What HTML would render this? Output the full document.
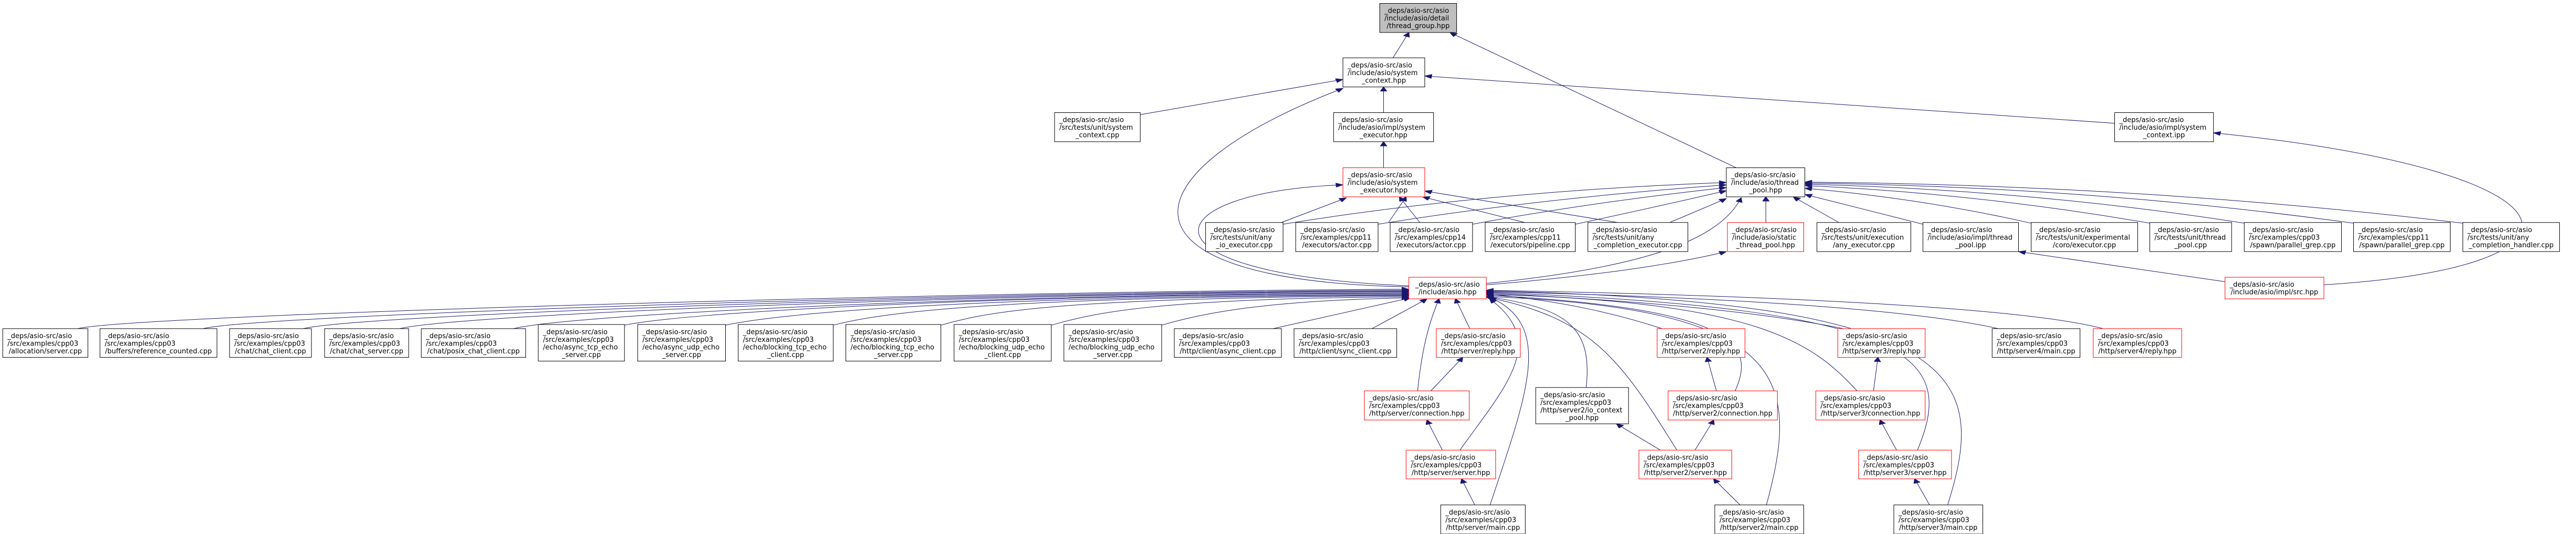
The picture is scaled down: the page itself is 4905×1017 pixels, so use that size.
<!DOCTYPE html>
<html><head><meta charset="utf-8">
<style>
html,body{margin:0;padding:0;background:#fff;width:4905px;height:1017px;overflow:hidden}
svg{display:block}
rect{fill:#fff;stroke:#000;stroke-width:1;vector-effect:non-scaling-stroke}
rect.r{stroke:#ff0000}
rect.g{fill:#bfbfbf}
path{fill:none;stroke:#191970;stroke-width:1;vector-effect:non-scaling-stroke}
text{font-family:"DejaVu Sans","Liberation Sans",sans-serif;font-size:13px;fill:#000}
text.m{text-anchor:middle}
</style></head><body>
<svg width="4905" height="1017" viewBox="0 0 4690 1560" preserveAspectRatio="none" xmlns="http://www.w3.org/2000/svg">
<defs><marker id="a" markerUnits="userSpaceOnUse" markerWidth="16" markerHeight="14" refX="13" refY="6" orient="auto"><path d="M0,0 L13,6 L0,12 z" style="fill:#191970;stroke:#191970"/></marker></defs>
<g marker-end="url(#a)">
<!-- to thread_group -->
<path d="M2536,169 L2565,95"/>
<path d="M3161,490 L2640,95"/>
<!-- to system_context.hpp -->
<path d="M2076,335 L2445,232"/>
<path d="M2519,329 L2519,254"/>
<path d="M2565,838 C2000,820 2050,500 2445,258"/>
<path d="M3850,360 L2594,222"/>
<!-- impl/system_executor -->
<path d="M2519,490 L2519,414"/>
<!-- system_executor.hpp -->
<path d="M2565,835 C2050,800 2100,560 2445,540"/>
<path d="M2333,650 L2451,578"/>
<path d="M2528,650 L2560,575"/>
<path d="M2585,650 L2548,575"/>
<path d="M2776,650 L2590,575"/>
<path d="M2945,650 L2594,558"/>
<!-- thread_pool.hpp -->
<path d="M2336,655 Q2700,560 3143,533"/>
<path d="M2509,655 Q2800,580 3143,540"/>
<path d="M2681,655 Q2900,590 3143,548"/>
<path d="M2868,655 Q3000,610 3143,557"/>
<path d="M3040,650 L3143,580"/>
<path d="M2706,828 C3000,780 3130,700 3170,578"/>
<path d="M2706,832 C2950,800 3080,760 3143,735"/>
<path d="M3215,650 L3215,575"/>
<path d="M3348,650 L3265,575"/>
<path d="M3501,655 L3286,568"/>
<path d="M3698,652 Q3500,580 3286,550"/>
<path d="M3914,652 Q3600,565 3286,542"/>
<path d="M4086,652 Q3700,555 3286,538"/>
<path d="M4285,652 Q3800,545 3286,535"/>
<path d="M4484,652 Q3900,540 3286,532"/>
<!-- src.hpp -->
<path d="M4051,823 L3675,735"/>
<path d="M4231,832 C4760,780 4720,500 4030,388"/>
<!-- left files to asio.hpp -->
<path d="M142,960 C242,920 1765,850 2565,845"/>
<path d="M370,960 C470,920 1765,852 2565,848"/>
<path d="M552,960 C652,920 1765,855 2565,850"/>
<path d="M728,960 C828,920 1765,857 2565,852"/>
<path d="M935,960 C1035,920 1765,860 2565,855"/>
<path d="M1137,950 C1237,915 1765,862 2565,857"/>
<path d="M1321,950 C1421,915 1765,865 2565,860"/>
<path d="M1517,950 C1600,915 1800,867 2565,862"/>
<path d="M1713,950 C1790,915 1900,870 2565,864"/>
<path d="M1914,950 C1990,915 2100,872 2565,867"/>
<path d="M2115,950 C2190,915 2300,878 2565,870"/>
<path d="M2318,960 L2568,870"/>
<path d="M2498,960 L2598,873"/>
<!-- http/server -->
<path d="M2581,1142 C2590,1000 2605,930 2620,873"/>
<path d="M2676,960 L2650,873"/>
<path d="M2605,1142 L2663,1044"/>
<path d="M2626,1315 L2598,1227"/>
<path d="M2685,1475 L2661,1399"/>
<path d="M2658,1315 C2740,1130 2820,1000 2712,873"/>
<path d="M2713,1475 C2780,1150 2830,950 2712,868"/>
<path d="M2888,1132 C2900,950 2850,900 2706,866"/>
<!-- server2 -->
<path d="M3023,1315 L2943,1238"/>
<path d="M3086,1315 L3120,1227"/>
<path d="M3125,1142 L3108,1044"/>
<path d="M3168,1475 L3120,1399"/>
<path d="M3026,960 C2950,920 2850,880 2706,858"/>
<path d="M3053,1315 C2950,1050 2900,930 2706,868"/>
<path d="M3159,1142 C3200,1000 3150,900 2706,862"/>
<path d="M3216,1475 C3280,1100 3250,900 2706,866"/>
<!-- server3 -->
<path d="M3411,1142 L3419,1044"/>
<path d="M3453,1315 L3423,1227"/>
<path d="M3513,1475 L3486,1399"/>
<path d="M3356,960 C3200,910 3000,880 2706,856"/>
<path d="M3381,1142 C3300,1000 3200,880 2706,860"/>
<path d="M3491,1315 C3560,1050 3500,900 2706,854"/>
<path d="M3546,1475 C3620,1100 3580,880 2706,850"/>
<!-- server4 -->
<path d="M3638,960 C3500,910 3200,870 2706,852"/>
<path d="M3829,960 C3700,905 3300,865 2706,848"/>
</g>

<!-- NODES -->
<rect x="5" y="960" width="155" height="84"/><g transform="translate(5,960) scale(.956,1.534)"><text x="9" y="18.2">_deps/asio-src/asio</text><text x="9" y="32.7">/src/examples/cpp03</text><text class="m" x="81.1" y="47.2">/allocation/server.cpp</text></g>
<rect x="182" y="960" width="213" height="84"/><g transform="translate(182,960) scale(.956,1.534)"><text x="9" y="18.2">_deps/asio-src/asio</text><text x="9" y="32.7">/src/examples/cpp03</text><text class="m" x="111.4" y="47.2">/buffers/reference_counted.cpp</text></g>
<rect x="418" y="960" width="149" height="84"/><g transform="translate(418,960) scale(.956,1.534)"><text x="9" y="18.2">_deps/asio-src/asio</text><text x="9" y="32.7">/src/examples/cpp03</text><text class="m" x="77.9" y="47.2">/chat/chat_client.cpp</text></g>
<rect x="591" y="960" width="153" height="84"/><g transform="translate(591,960) scale(.956,1.534)"><text x="9" y="18.2">_deps/asio-src/asio</text><text x="9" y="32.7">/src/examples/cpp03</text><text class="m" x="80" y="47.2">/chat/chat_server.cpp</text></g>
<rect x="767" y="960" width="190" height="84"/><g transform="translate(767,960) scale(.956,1.534)"><text x="9" y="18.2">_deps/asio-src/asio</text><text x="9" y="32.7">/src/examples/cpp03</text><text class="m" x="99.4" y="47.2">/chat/posix_chat_client.cpp</text></g>
<rect x="980" y="948" width="157" height="107"/><g transform="translate(980,948) scale(.956,1.534)"><text x="9" y="18.4">_deps/asio-src/asio</text><text x="9" y="32.9">/src/examples/cpp03</text><text x="9" y="47.4">/echo/async_tcp_echo</text><text class="m" x="82.1" y="61.9">_server.cpp</text></g>
<rect x="1161" y="948" width="160" height="107"/><g transform="translate(1161,948) scale(.956,1.534)"><text x="9" y="18.4">_deps/asio-src/asio</text><text x="9" y="32.9">/src/examples/cpp03</text><text x="9" y="47.4">/echo/async_udp_echo</text><text class="m" x="83.7" y="61.9">_server.cpp</text></g>
<rect x="1344" y="948" width="173" height="107"/><g transform="translate(1344,948) scale(.956,1.534)"><text x="9" y="18.4">_deps/asio-src/asio</text><text x="9" y="32.9">/src/examples/cpp03</text><text x="9" y="47.4">/echo/blocking_tcp_echo</text><text class="m" x="90.5" y="61.9">_client.cpp</text></g>
<rect x="1540" y="948" width="173" height="107"/><g transform="translate(1540,948) scale(.956,1.534)"><text x="9" y="18.4">_deps/asio-src/asio</text><text x="9" y="32.9">/src/examples/cpp03</text><text x="9" y="47.4">/echo/blocking_tcp_echo</text><text class="m" x="90.5" y="61.9">_server.cpp</text></g>
<rect x="1737" y="948" width="177" height="107"/><g transform="translate(1737,948) scale(.956,1.534)"><text x="9" y="18.4">_deps/asio-src/asio</text><text x="9" y="32.9">/src/examples/cpp03</text><text x="9" y="47.4">/echo/blocking_udp_echo</text><text class="m" x="92.6" y="61.9">_client.cpp</text></g>
<rect x="1937" y="948" width="178" height="107"/><g transform="translate(1937,948) scale(.956,1.534)"><text x="9" y="18.4">_deps/asio-src/asio</text><text x="9" y="32.9">/src/examples/cpp03</text><text x="9" y="47.4">/echo/blocking_udp_echo</text><text class="m" x="93.1" y="61.9">_server.cpp</text></g>
<rect x="2138" y="960" width="195" height="84"/><g transform="translate(2138,960) scale(.956,1.534)"><text x="9" y="18.2">_deps/asio-src/asio</text><text x="9" y="32.7">/src/examples/cpp03</text><text class="m" x="102" y="47.2">/http/client/async_client.cpp</text></g>
<rect x="2356" y="960" width="187" height="84"/><g transform="translate(2356,960) scale(.956,1.534)"><text x="9" y="18.2">_deps/asio-src/asio</text><text x="9" y="32.7">/src/examples/cpp03</text><text class="m" x="97.8" y="47.2">/http/client/sync_client.cpp</text></g>
<rect class="r" x="2615" y="960" width="153" height="84"/><g transform="translate(2615,960) scale(.956,1.534)"><text x="9" y="18.2">_deps/asio-src/asio</text><text x="9" y="32.7">/src/examples/cpp03</text><text class="m" x="80" y="47.2">/http/server/reply.hpp</text></g>
<rect class="r" x="2484" y="1142" width="191" height="85"/><g transform="translate(2484,1142) scale(.956,1.534)"><text x="9" y="18.2">_deps/asio-src/asio</text><text x="9" y="32.7">/src/examples/cpp03</text><text class="m" x="99.9" y="47.2">/http/server/connection.hpp</text></g>
<rect class="r" x="2560" y="1315" width="163" height="84"/><g transform="translate(2560,1315) scale(.956,1.534)"><text x="9" y="18.2">_deps/asio-src/asio</text><text x="9" y="32.7">/src/examples/cpp03</text><text class="m" x="85.2" y="47.2">/http/server/server.hpp</text></g>
<rect x="2623" y="1475" width="154" height="85"/><g transform="translate(2623,1475) scale(.956,1.534)"><text x="9" y="18.2">_deps/asio-src/asio</text><text x="9" y="32.7">/src/examples/cpp03</text><text class="m" x="80.5" y="47.2">/http/server/main.cpp</text></g>
<rect x="2796" y="1132" width="169" height="106"/><g transform="translate(2796,1132) scale(.956,1.534)"><text x="9" y="18.4">_deps/asio-src/asio</text><text x="9" y="32.9">/src/examples/cpp03</text><text x="9" y="47.4">/http/server2/io_context</text><text class="m" x="88.4" y="61.9">_pool.hpp</text></g>
<rect class="r" x="3017" y="960" width="160" height="84"/><g transform="translate(3017,960) scale(.956,1.534)"><text x="9" y="18.2">_deps/asio-src/asio</text><text x="9" y="32.7">/src/examples/cpp03</text><text class="m" x="83.7" y="47.2">/http/server2/reply.hpp</text></g>
<rect class="r" x="3037" y="1142" width="199" height="85"/><g transform="translate(3037,1142) scale(.956,1.534)"><text x="9" y="18.2">_deps/asio-src/asio</text><text x="9" y="32.7">/src/examples/cpp03</text><text class="m" x="104.1" y="47.2">/http/server2/connection.hpp</text></g>
<rect class="r" x="2984" y="1315" width="169" height="84"/><g transform="translate(2984,1315) scale(.956,1.534)"><text x="9" y="18.2">_deps/asio-src/asio</text><text x="9" y="32.7">/src/examples/cpp03</text><text class="m" x="88.4" y="47.2">/http/server2/server.hpp</text></g>
<rect x="3122" y="1475" width="162" height="85"/><g transform="translate(3122,1475) scale(.956,1.534)"><text x="9" y="18.2">_deps/asio-src/asio</text><text x="9" y="32.7">/src/examples/cpp03</text><text class="m" x="84.7" y="47.2">/http/server2/main.cpp</text></g>
<rect class="r" x="3346" y="960" width="159" height="84"/><g transform="translate(3346,960) scale(.956,1.534)"><text x="9" y="18.2">_deps/asio-src/asio</text><text x="9" y="32.7">/src/examples/cpp03</text><text class="m" x="83.2" y="47.2">/http/server3/reply.hpp</text></g>
<rect class="r" x="3306" y="1142" width="199" height="85"/><g transform="translate(3306,1142) scale(.956,1.534)"><text x="9" y="18.2">_deps/asio-src/asio</text><text x="9" y="32.7">/src/examples/cpp03</text><text class="m" x="104.1" y="47.2">/http/server3/connection.hpp</text></g>
<rect class="r" x="3384" y="1315" width="169" height="84"/><g transform="translate(3384,1315) scale(.956,1.534)"><text x="9" y="18.2">_deps/asio-src/asio</text><text x="9" y="32.7">/src/examples/cpp03</text><text class="m" x="88.4" y="47.2">/http/server3/server.hpp</text></g>
<rect x="3448" y="1475" width="162" height="85"/><g transform="translate(3448,1475) scale(.956,1.534)"><text x="9" y="18.2">_deps/asio-src/asio</text><text x="9" y="32.7">/src/examples/cpp03</text><text class="m" x="84.7" y="47.2">/http/server3/main.cpp</text></g>
<rect x="3627" y="960" width="160" height="84"/><g transform="translate(3627,960) scale(.956,1.534)"><text x="9" y="18.2">_deps/asio-src/asio</text><text x="9" y="32.7">/src/examples/cpp03</text><text class="m" x="83.7" y="47.2">/http/server4/main.cpp</text></g>
<rect class="r" x="3811" y="960" width="161" height="84"/><g transform="translate(3811,960) scale(.956,1.534)"><text x="9" y="18.2">_deps/asio-src/asio</text><text x="9" y="32.7">/src/examples/cpp03</text><text class="m" x="84.2" y="47.2">/http/server4/reply.hpp</text></g>
<rect class="r" x="2565" y="810" width="141" height="63"/><g transform="translate(2565,810) scale(.956,1.534)"><text class="m" x="73.7" y="18">_deps/asio-src/asio</text><text class="m" x="73.7" y="32.5">/include/asio.hpp</text></g>
<rect class="r" x="4051" y="810" width="180" height="63"/><g transform="translate(4051,810) scale(.956,1.534)"><text x="9" y="18">_deps/asio-src/asio</text><text class="m" x="94.1" y="32.5">/include/asio/impl/src.hpp</text></g>
<rect class="g" x="2512" y="10" width="140" height="85"/><g transform="translate(2512,10) scale(.956,1.534)"><text x="9" y="18.2">_deps/asio-src/asio</text><text x="9" y="32.7">/include/asio/detail</text><text class="m" x="73.2" y="47.2">/thread_group.hpp</text></g>
<rect x="2445" y="169" width="149" height="85"/><g transform="translate(2445,169) scale(.956,1.534)"><text x="9" y="18.2">_deps/asio-src/asio</text><text x="9" y="32.7">/include/asio/system</text><text class="m" x="77.9" y="47.2">_context.hpp</text></g>
<rect x="1920" y="329" width="156" height="85"/><g transform="translate(1920,329) scale(.956,1.534)"><text x="9" y="18.2">_deps/asio-src/asio</text><text x="9" y="32.7">/src/tests/unit/system</text><text class="m" x="81.6" y="47.2">_context.cpp</text></g>
<rect x="2428" y="329" width="182" height="85"/><g transform="translate(2428,329) scale(.956,1.534)"><text x="9" y="18.2">_deps/asio-src/asio</text><text x="9" y="32.7">/include/asio/impl/system</text><text class="m" x="95.2" y="47.2">_executor.hpp</text></g>
<rect class="r" x="2445" y="490" width="149" height="85"/><g transform="translate(2445,490) scale(.956,1.534)"><text x="9" y="18.2">_deps/asio-src/asio</text><text x="9" y="32.7">/include/asio/system</text><text class="m" x="77.9" y="47.2">_executor.hpp</text></g>
<rect x="2195" y="650" width="141" height="85"/><g transform="translate(2195,650) scale(.956,1.534)"><text x="9" y="18.2">_deps/asio-src/asio</text><text x="9" y="32.7">/src/tests/unit/any</text><text class="m" x="73.7" y="47.2">_io_executor.cpp</text></g>
<rect x="2359" y="650" width="150" height="85"/><g transform="translate(2359,650) scale(.956,1.534)"><text x="9" y="18.2">_deps/asio-src/asio</text><text x="9" y="32.7">/src/examples/cpp11</text><text class="m" x="78.5" y="47.2">/executors/actor.cpp</text></g>
<rect x="2531" y="650" width="150" height="85"/><g transform="translate(2531,650) scale(.956,1.534)"><text x="9" y="18.2">_deps/asio-src/asio</text><text x="9" y="32.7">/src/examples/cpp14</text><text class="m" x="78.5" y="47.2">/executors/actor.cpp</text></g>
<rect x="2704" y="650" width="164" height="85"/><g transform="translate(2704,650) scale(.956,1.534)"><text x="9" y="18.2">_deps/asio-src/asio</text><text x="9" y="32.7">/src/examples/cpp11</text><text class="m" x="85.8" y="47.2">/executors/pipeline.cpp</text></g>
<rect x="2891" y="650" width="182" height="85"/><g transform="translate(2891,650) scale(.956,1.534)"><text x="9" y="18.2">_deps/asio-src/asio</text><text x="9" y="32.7">/src/tests/unit/any</text><text class="m" x="95.2" y="47.2">_completion_executor.cpp</text></g>
<rect x="3850" y="329" width="180" height="85"/><g transform="translate(3850,329) scale(.956,1.534)"><text x="9" y="18.2">_deps/asio-src/asio</text><text x="9" y="32.7">/include/asio/impl/system</text><text class="m" x="94.1" y="47.2">_context.ipp</text></g>
<rect x="3143" y="490" width="143" height="85"/><g transform="translate(3143,490) scale(.956,1.534)"><text x="9" y="18.2">_deps/asio-src/asio</text><text x="9" y="32.7">/include/asio/thread</text><text class="m" x="74.8" y="47.2">_pool.hpp</text></g>
<rect class="r" x="3145" y="650" width="139" height="85"/><g transform="translate(3145,650) scale(.956,1.534)"><text x="9" y="18.2">_deps/asio-src/asio</text><text x="9" y="32.7">/include/asio/static</text><text class="m" x="72.7" y="47.2">_thread_pool.hpp</text></g>
<rect x="3308" y="650" width="171" height="85"/><g transform="translate(3308,650) scale(.956,1.534)"><text x="9" y="18.2">_deps/asio-src/asio</text><text x="9" y="32.7">/src/tests/unit/execution</text><text class="m" x="89.4" y="47.2">/any_executor.cpp</text></g>
<rect x="3501" y="650" width="174" height="85"/><g transform="translate(3501,650) scale(.956,1.534)"><text x="9" y="18.2">_deps/asio-src/asio</text><text x="9" y="32.7">/include/asio/impl/thread</text><text class="m" x="91" y="47.2">_pool.ipp</text></g>
<rect x="3698" y="650" width="194" height="85"/><g transform="translate(3698,650) scale(.956,1.534)"><text x="9" y="18.2">_deps/asio-src/asio</text><text x="9" y="32.7">/src/tests/unit/experimental</text><text class="m" x="101.5" y="47.2">/coro/executor.cpp</text></g>
<rect x="3914" y="650" width="149" height="85"/><g transform="translate(3914,650) scale(.956,1.534)"><text x="9" y="18.2">_deps/asio-src/asio</text><text x="9" y="32.7">/src/tests/unit/thread</text><text class="m" x="77.9" y="47.2">_pool.cpp</text></g>
<rect x="4086" y="650" width="177" height="85"/><g transform="translate(4086,650) scale(.956,1.534)"><text x="9" y="18.2">_deps/asio-src/asio</text><text x="9" y="32.7">/src/examples/cpp03</text><text class="m" x="92.6" y="47.2">/spawn/parallel_grep.cpp</text></g>
<rect x="4285" y="650" width="176" height="85"/><g transform="translate(4285,650) scale(.956,1.534)"><text x="9" y="18.2">_deps/asio-src/asio</text><text x="9" y="32.7">/src/examples/cpp11</text><text class="m" x="92.1" y="47.2">/spawn/parallel_grep.cpp</text></g>
<rect x="4484" y="650" width="176" height="85"/><g transform="translate(4484,650) scale(.956,1.534)"><text x="9" y="18.2">_deps/asio-src/asio</text><text x="9" y="32.7">/src/tests/unit/any</text><text class="m" x="92.1" y="47.2">_completion_handler.cpp</text></g>
</svg>
</body></html>
